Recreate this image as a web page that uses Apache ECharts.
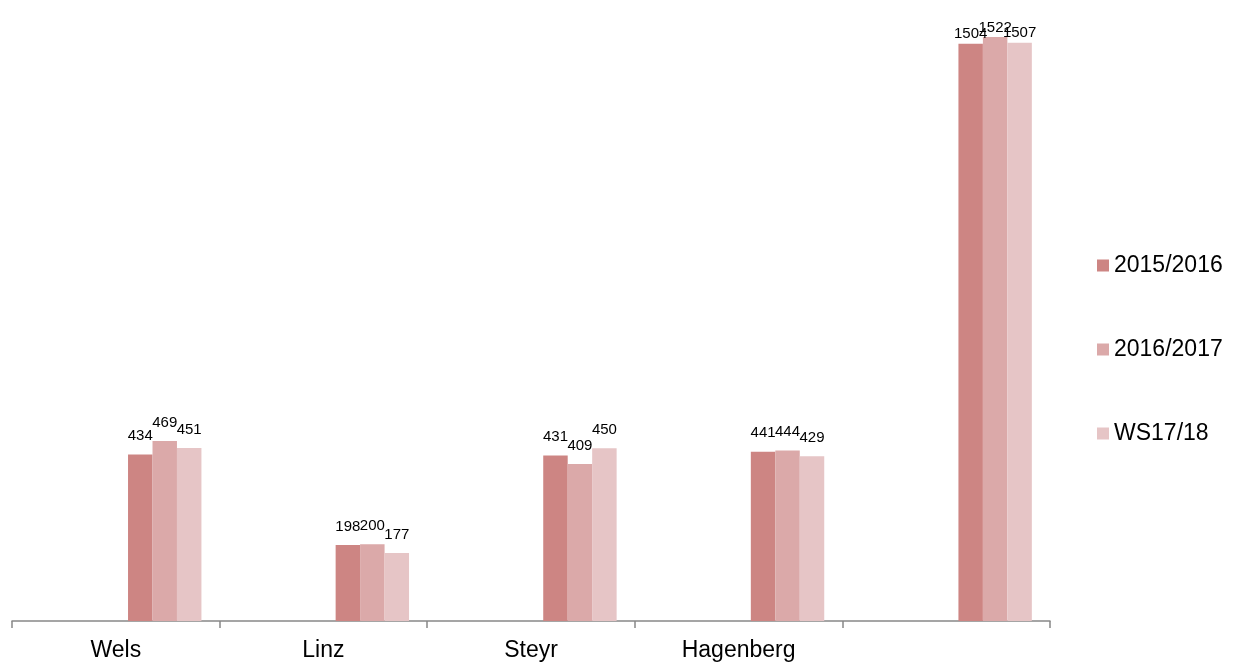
<!DOCTYPE html>
<html>
<head>
<meta charset="utf-8">
<script src="https://cdn.jsdelivr.net/npm/echarts@6/dist/echarts.min.js"></script>
<style>
  html, body { margin: 0; padding: 0; background: #fff; }
  #chart { width: 1237px; height: 662px; }
</style>
</head>
<body>
<div id="chart"></div>
<script>
// Student counts per campus
const categories = ['Wels', 'Linz', 'Steyr', 'Hagenberg', ''];
const seriesNames = ['2015/2016', '2016/2017', 'WS17/18'];
const values2015 = [434, 198, 431, 441, 1504];
const values2016 = [469, 200, 409, 444, 1522];
const valuesWS17 = [451, 177, 450, 429, 1507];
const colors = ['#cd8583', '#dba9a9', '#e6c5c6'];

const FONT = 'Liberation Sans, Arial, sans-serif';

// Four empty slots precede the three year series in each category group
const emptySlots = [0, 1, 2, 3].map(i => ({
  type: 'bar',
  name: 'slot' + i,
  data: categories.map(() => '-'),
  barGap: '0%',
  barCategoryGap: '17.5%',
  silent: true
}));

// Tall bars near the top of the plot keep their labels closer
function toItems(vals) {
  return vals.map((v, idx) => idx === vals.length - 1
    ? { value: v, label: { distance: 2 } }
    : v);
}

const valueSeries = [values2015, values2016, valuesWS17].map((vals, i) => ({
  type: 'bar',
  name: seriesNames[i],
  data: toItems(vals),
  barGap: '0%',
  barCategoryGap: '17.5%',
  itemStyle: { color: colors[i] },
  label: {
    show: true,
    position: 'top',
    distance: 11,
    color: '#000',
    fontFamily: FONT,
    fontSize: 15
  }
}));

const chart = echarts.init(document.getElementById('chart'));
chart.setOption({
  animation: false,
  textStyle: { fontFamily: FONT },
  grid: { left: 12, right: 187, top: 7, bottom: 41, containLabel: false },
  legend: {
    data: seriesNames,
    orient: 'vertical',
    left: 1092,
    top: 249,
    itemWidth: 12,
    itemHeight: 12,
    itemGap: 61,
    icon: 'rect',
    textStyle: { fontSize: 23, color: '#000', fontFamily: FONT }
  },
  xAxis: {
    type: 'category',
    data: categories,
    axisLine: { lineStyle: { color: '#888', width: 1.5 } },
    axisTick: { show: true, length: 7, lineStyle: { color: '#888', width: 1.5 } },
    axisLabel: { color: '#000', fontSize: 23, margin: 18, fontFamily: FONT }
  },
  yAxis: {
    type: 'value',
    min: 0,
    max: 1600,
    show: false,
    splitLine: { show: false }
  },
  series: emptySlots.concat(valueSeries)
});
</script>
</body>
</html>
